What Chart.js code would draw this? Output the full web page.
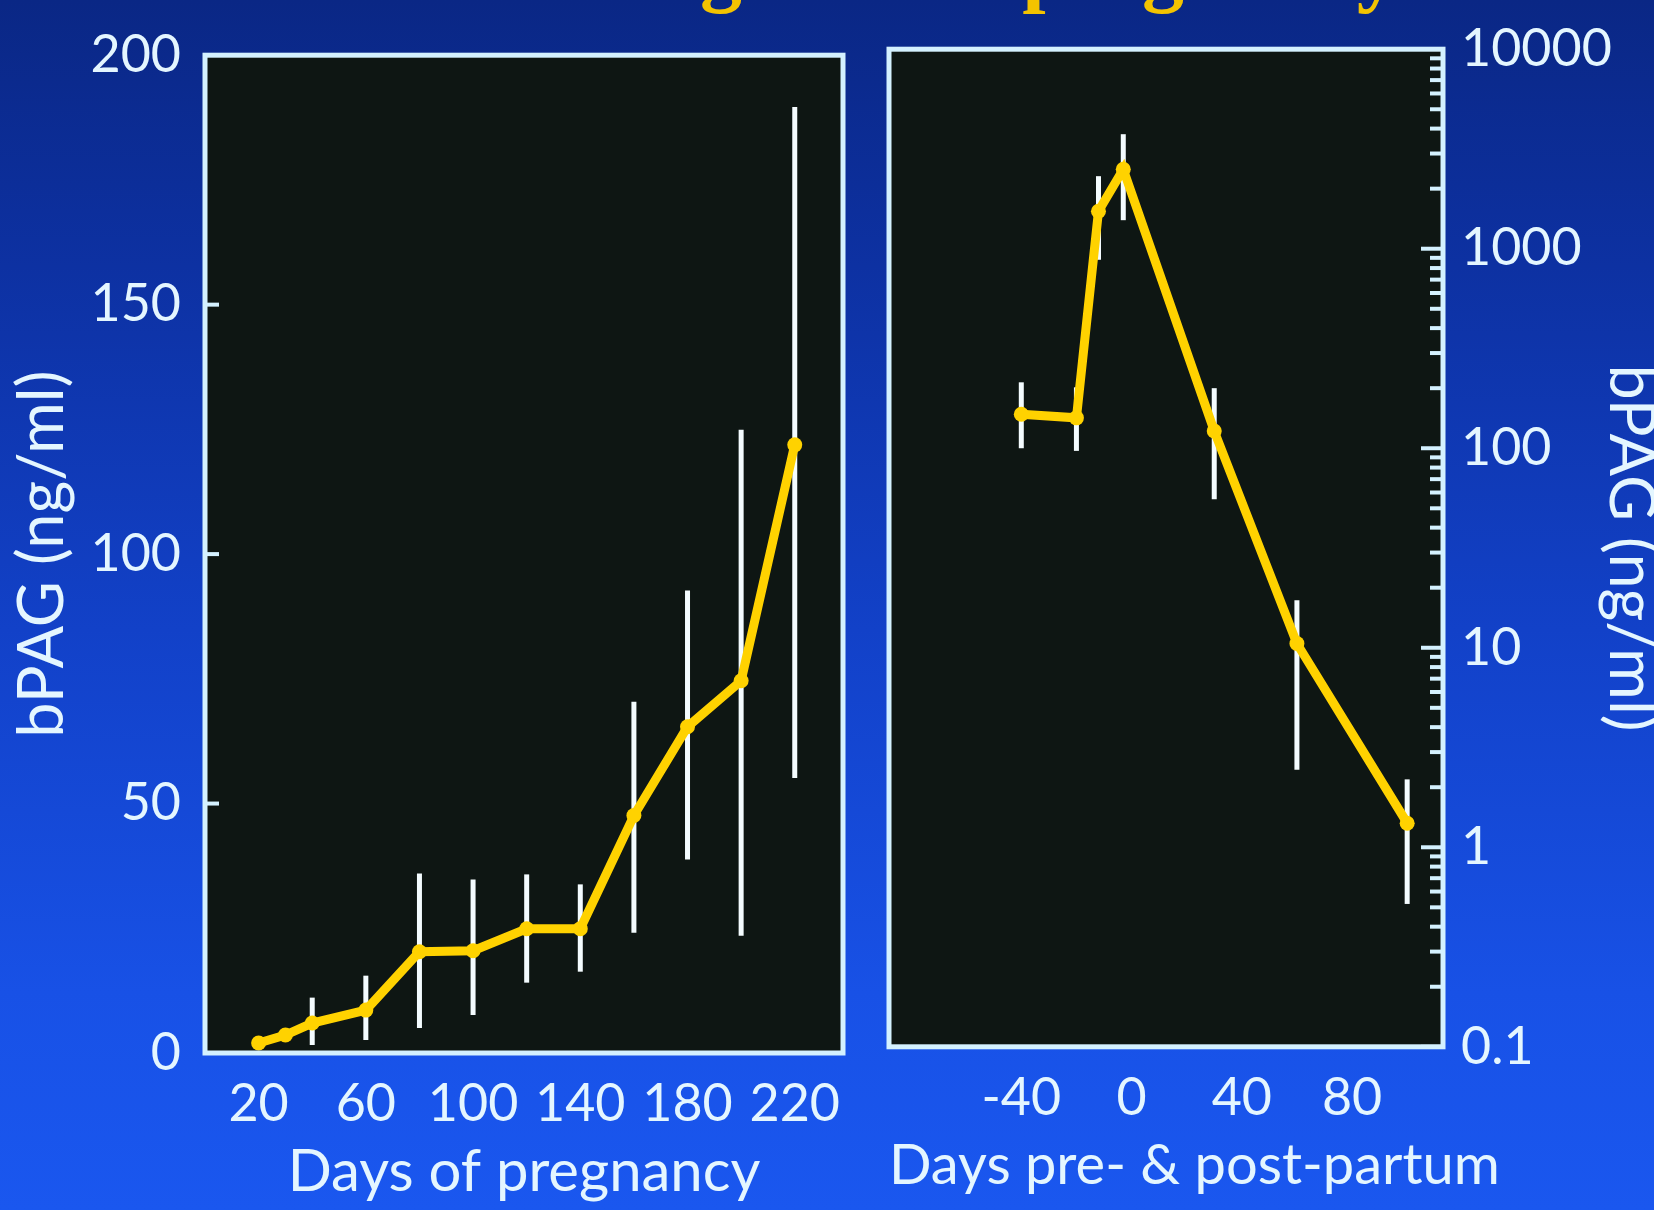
<!DOCTYPE html>
<html>
<head>
<meta charset="utf-8">
<script src="https://cdn.jsdelivr.net/npm/chart.js@4.4.1/dist/chart.umd.min.js"></script>
<style>
html, body { margin:0; padding:0; width:1654px; height:1210px; overflow:hidden; }
body {
  position:relative;
  background: linear-gradient(180deg, #0a2785 0%, #0d31a2 22%, #1241c8 52%, #1851e6 82%, #1a57ef 100%);
}
#title {
  position:absolute; left:0; top:-74px; width:1636px; text-align:center;
  font: bold 84px "Liberation Serif", serif; line-height:84px; color:#f3c300; white-space:nowrap;
}
#c1 { position:absolute; left:0; top:0; }
#c2 { position:absolute; left:870px; top:0; }
</style>
</head>
<body>
<div id="title">Profile during bovine pregnancy</div>
<canvas id="c1" width="880" height="1210"></canvas>
<canvas id="c2" width="784" height="1210"></canvas>
<script>
// ---- Data: left panel (days of pregnancy, linear scale) ----
const pregDays  = [20, 30, 40, 60, 80, 100, 120, 140, 160, 180, 200, 220];
const pregMean  = [2.0, 3.6, 6.0, 8.6, 20.3, 20.5, 24.9, 24.9, 47.6, 65.4, 74.6, 121.9];
const pregLow   = [null, null, 1.6, 2.6, 5.0, 7.6, 14.1, 16.3, 24.1, 38.8, 23.5, 55.1];
const pregHigh  = [null, null, 11.1, 15.5, 36.0, 34.8, 35.8, 33.8, 70.4, 92.7, 124.9, 189.6];
const pregXTicks = [20, 60, 100, 140, 180, 220];
const pregYTicks = [0, 50, 100, 150, 200];
const pregYMinorMarks = [50, 100, 150];

// ---- Data: right panel (days pre- & post-partum, log scale) ----
const partDays  = [-40, -20, -12, -3, 30, 60, 100];
const partMean  = [148, 142, 1540, 2500, 122, 10.5, 1.32];
const partLow   = [100, 97, 880, 1390, 55.5, 2.45, 0.52];
const partHigh  = [214, 202, 2310, 3750, 200, 17.3, 2.19];
const partXTicks = [-40, 0, 40, 80];
const partYTicks = [0.1, 1, 10, 100, 1000, 10000];

const TEXT = '#e4f6ff';
const LINE = '#ffd200';
const FRAME = '#d4f1ff';
const PANEL = '#0e1613';

const panelPlugin = {
  id: 'panel',
  beforeDraw(chart) {
    const a = chart.chartArea, c = chart.ctx;
    c.save(); c.fillStyle = PANEL; c.fillRect(a.left, a.top, a.right - a.left, a.bottom - a.top); c.restore();
  },
  beforeDatasetsDraw(chart, args, opts) {
    const c = chart.ctx, xs = chart.scales.x, ys = chart.scales.y;
    c.save(); c.strokeStyle = '#f4fcff'; c.lineWidth = 5; c.lineCap = 'butt';
    opts.days.forEach((d, i) => {
      if (opts.low[i] == null) return;
      const x = xs.getPixelForValue(d);
      c.beginPath();
      c.moveTo(x, ys.getPixelForValue(opts.low[i]));
      c.lineTo(x, ys.getPixelForValue(opts.high[i]));
      c.stroke();
    });
    c.restore();
  },
  afterDraw(chart, args, opts) {
    const a = chart.chartArea, c = chart.ctx, ys = chart.scales.y;
    c.save();
    c.strokeStyle = FRAME; c.lineWidth = 4;
    (opts.marks || []).forEach(m => {
      const y = ys.getPixelForValue(m.v);
      c.beginPath();
      if (opts.side === 'left') { c.moveTo(a.left, y); c.lineTo(a.left + m.len, y); }
      else { c.moveTo(a.right, y); c.lineTo(a.right - m.len, y); }
      c.stroke();
    });
    c.lineWidth = 5;
    c.strokeRect(a.left, a.top, a.right - a.left, a.bottom - a.top);
    c.restore();
  }
};

const tickFont = { family: 'Lato', size: 52 };

// ---- Left chart ----
new Chart(document.getElementById('c1'), {
  type: 'line',
  data: { datasets: [{
    data: pregDays.map((d, i) => ({ x: d, y: pregMean[i] })),
    borderColor: LINE, backgroundColor: LINE, borderWidth: 9,
    pointRadius: 7.5, pointBackgroundColor: LINE, pointBorderWidth: 0, tension: 0
  }]},
  options: {
    responsive: false, animation: false,
    layout: { padding: { top: 47, right: 37, left: 0, bottom: 0 } },
    plugins: {
      legend: { display: false }, tooltip: { enabled: false },
      panel: { days: pregDays, low: pregLow, high: pregHigh, side: 'left',
               marks: pregYMinorMarks.map(v => ({ v, len: 14 })) }
    },
    scales: {
      x: {
        type: 'linear', min: 0, max: 238,
        afterBuildTicks: s => { s.ticks = pregXTicks.map(v => ({ value: v })); },
        afterFit: s => { s.height = 157; },
        grid: { display: false, drawTicks: false }, border: { display: false },
        ticks: { color: TEXT, font: tickFont, padding: 20, maxRotation: 0, autoSkip: false, callback: v => String(v) },
        title: { display: true, text: 'Days of pregnancy', color: TEXT, font: { family: 'Lato', size: 58 }, padding: { top: 0, bottom: 3 } }
      },
      y: {
        type: 'linear', min: 0, max: 200,
        afterBuildTicks: s => { s.ticks = pregYTicks.map(v => ({ value: v })); },
        afterFit: s => { s.width = 205; },
        grid: { display: false, drawTicks: false }, border: { display: false },
        ticks: { color: TEXT, font: tickFont, padding: 24, autoSkip: false, callback: v => String(v) },
        title: { display: true, text: 'bPAG (ng/ml)', color: TEXT, font: { family: 'Lato', size: 63 }, padding: { top: 5, bottom: 0 } }
      }
    }
  },
  plugins: [panelPlugin]
});

// ---- Right chart ----
const logMarks = [];
for (let k = -1; k <= 3; k++) {
  for (let d = 1; d <= 9; d++) {
    const v = d * Math.pow(10, k);
    if (v >= 0.1 && v <= 10000) logMarks.push({ v, len: d === 1 ? 22 : 13 });
  }
}

new Chart(document.getElementById('c2'), {
  type: 'line',
  data: { datasets: [{
    data: partDays.map((d, i) => ({ x: d, y: partMean[i] })),
    borderColor: LINE, backgroundColor: LINE, borderWidth: 9,
    pointRadius: 7.5, pointBackgroundColor: LINE, pointBorderWidth: 0, tension: 0
  }]},
  options: {
    responsive: false, animation: false,
    layout: { padding: { top: 45, right: 0, left: 19, bottom: 0 } },
    plugins: {
      legend: { display: false }, tooltip: { enabled: false },
      title: { display: true, position: 'bottom', align: 'start', text: 'Days pre- & post-partum', color: TEXT,
               font: { family: 'Lato', size: 56, weight: 'normal', lineHeight: 1.2 }, padding: { top: 0, bottom: 10 } },
      panel: { days: partDays, low: partLow, high: partHigh, side: 'right', marks: logMarks }
    },
    scales: {
      x: {
        type: 'linear', min: -88, max: 113,
        afterBuildTicks: s => { s.ticks = partXTicks.map(v => ({ value: v })); },
        afterFit: s => { s.height = 86; },
        grid: { display: false, drawTicks: false }, border: { display: false },
        ticks: { color: TEXT, font: tickFont, padding: 20, maxRotation: 0, autoSkip: false, callback: v => String(v) }
      },
      y: {
        type: 'logarithmic', position: 'right', min: 0.1, max: 10000,
        afterBuildTicks: s => { s.ticks = partYTicks.map(v => ({ value: v })); },
        afterFit: s => { s.width = 211; },
        grid: { display: false, drawTicks: false }, border: { display: false },
        ticks: { color: TEXT, font: tickFont, padding: 18, autoSkip: false, callback: v => String(v) },
        title: { display: true, text: 'bPAG (ng/ml)', color: TEXT, font: { family: 'Lato', size: 63, lineHeight: 0.76 }, padding: { top: 0, bottom: 0 } }
      }
    }
  },
  plugins: [panelPlugin]
});
</script>
</body>
</html>
